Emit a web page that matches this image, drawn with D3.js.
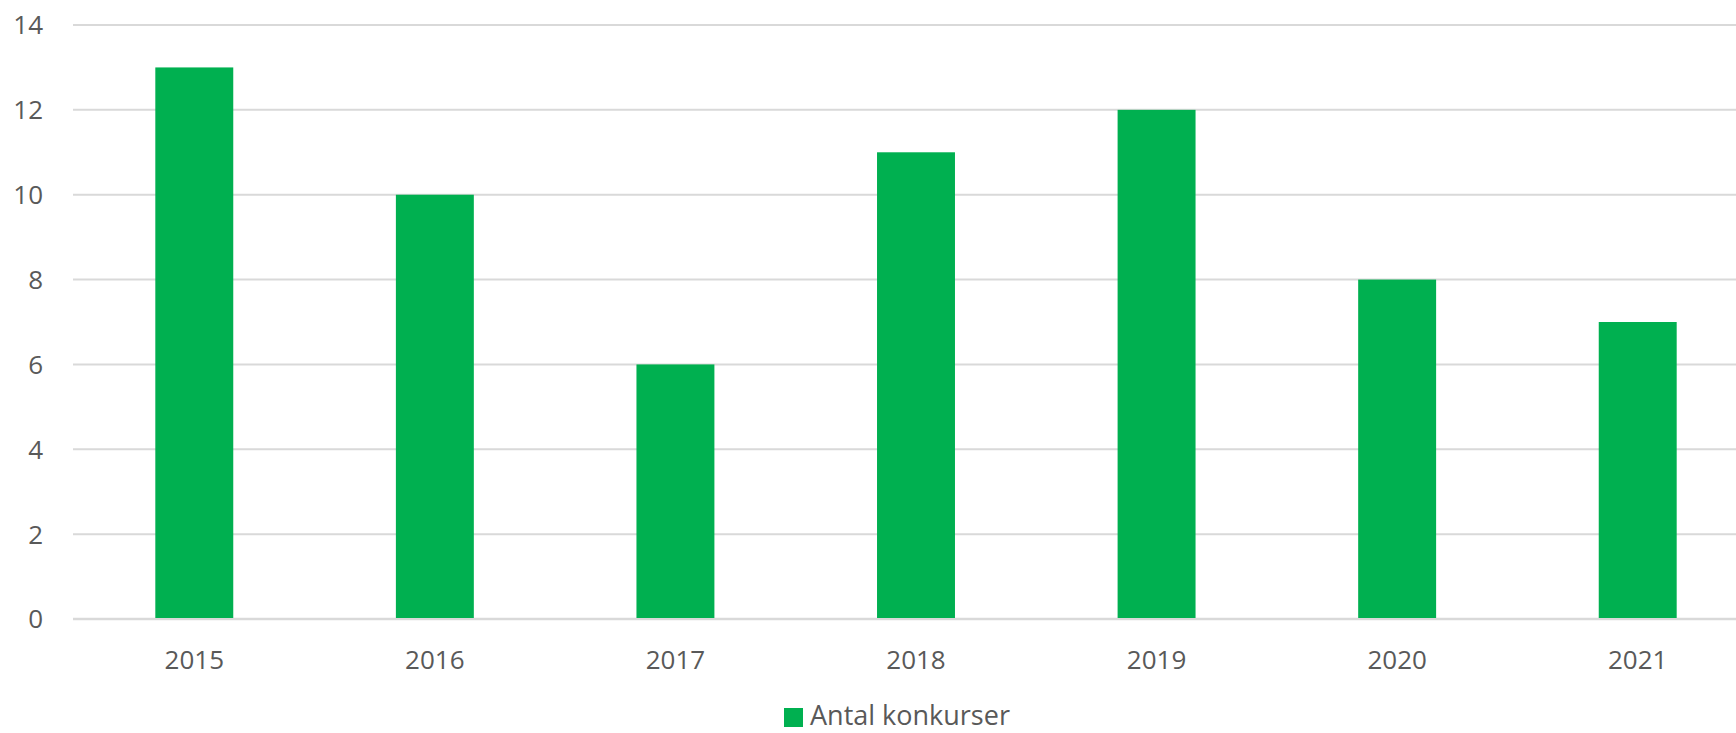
<!DOCTYPE html>
<html>
<head>
<meta charset="utf-8">
<script src="https://cdn.jsdelivr.net/npm/d3@7"></script>
<style>
  body { margin: 0; background: #fff; }
  svg { display: block; }
  text { font-family: "Open Sans", "Noto Sans", sans-serif; fill: #595959; }
</style>
</head>
<body>
<script>
var years = ['2015', '2016', '2017', '2018', '2019', '2020', '2021'];
var konkurser = [13, 10, 6, 11, 12, 8, 7];
var yTicks = [0, 2, 4, 6, 8, 10, 12, 14];
var seriesName = 'Antal konkurser';

var scr = { w: 1736, h: 733 };
var margins = { left: 74, right: -22, top: 25, bottom: 114 };
var w = scr.w - margins.left - margins.right;
var h = scr.h - margins.top - margins.bottom;

var svg = d3.select('body').append('svg')
    .attr('width', scr.w)
    .attr('height', scr.h);

var xScale = d3.scaleBand()
    .domain(years)
    .range([margins.left, margins.left + w])
    .paddingInner(0.676)
    .paddingOuter(0.338);

var yScale = d3.scaleLinear()
    .domain([0, 14])
    .range([margins.top + h, margins.top]);

// gridlines
svg.append('g')
    .selectAll('line')
    .data(yTicks)
    .enter()
    .append('line')
    .attr('x1', margins.left - 1)
    .attr('x2', scr.w)
    .attr('y1', function(d) { return yScale(d); })
    .attr('y2', function(d) { return yScale(d); })
    .attr('stroke', '#d9d9d9')
    .attr('stroke-width', function(d) { return d === 0 ? 2.5 : 2; });

// y labels
svg.append('g')
    .selectAll('text')
    .data(yTicks)
    .enter()
    .append('text')
    .attr('x', 43)
    .attr('y', function(d) { return yScale(d); })
    .attr('dy', '0.36em')
    .attr('text-anchor', 'end')
    .attr('font-size', 26)
    .text(function(d) { return d; });

// bars
svg.append('g')
    .selectAll('rect')
    .data(konkurser)
    .enter()
    .append('rect')
    .attr('x', function(d, i) { return xScale(years[i]); })
    .attr('y', function(d) { return yScale(d); })
    .attr('width', xScale.bandwidth())
    .attr('height', function(d) { return yScale(0) - yScale(d) - 1; })
    .attr('fill', '#00b050');

// x labels
svg.append('g')
    .selectAll('text')
    .data(years)
    .enter()
    .append('text')
    .attr('x', function(d) { return xScale(d) + xScale.bandwidth() / 2; })
    .attr('y', 669)
    .attr('text-anchor', 'middle')
    .attr('font-size', 26)
    .text(function(d) { return d; });

// legend (nudged up a little so the text box stays inside the picture)
var legend = svg.append('g');
legend.append('rect')
    .attr('x', 784)
    .attr('y', 708)
    .attr('width', 19)
    .attr('height', 19)
    .attr('fill', '#00b050');
legend.append('text')
    .attr('x', 810)
    .attr('y', 725)
    .attr('font-size', 27)
    .text(seriesName);
</script>
</body>
</html>
